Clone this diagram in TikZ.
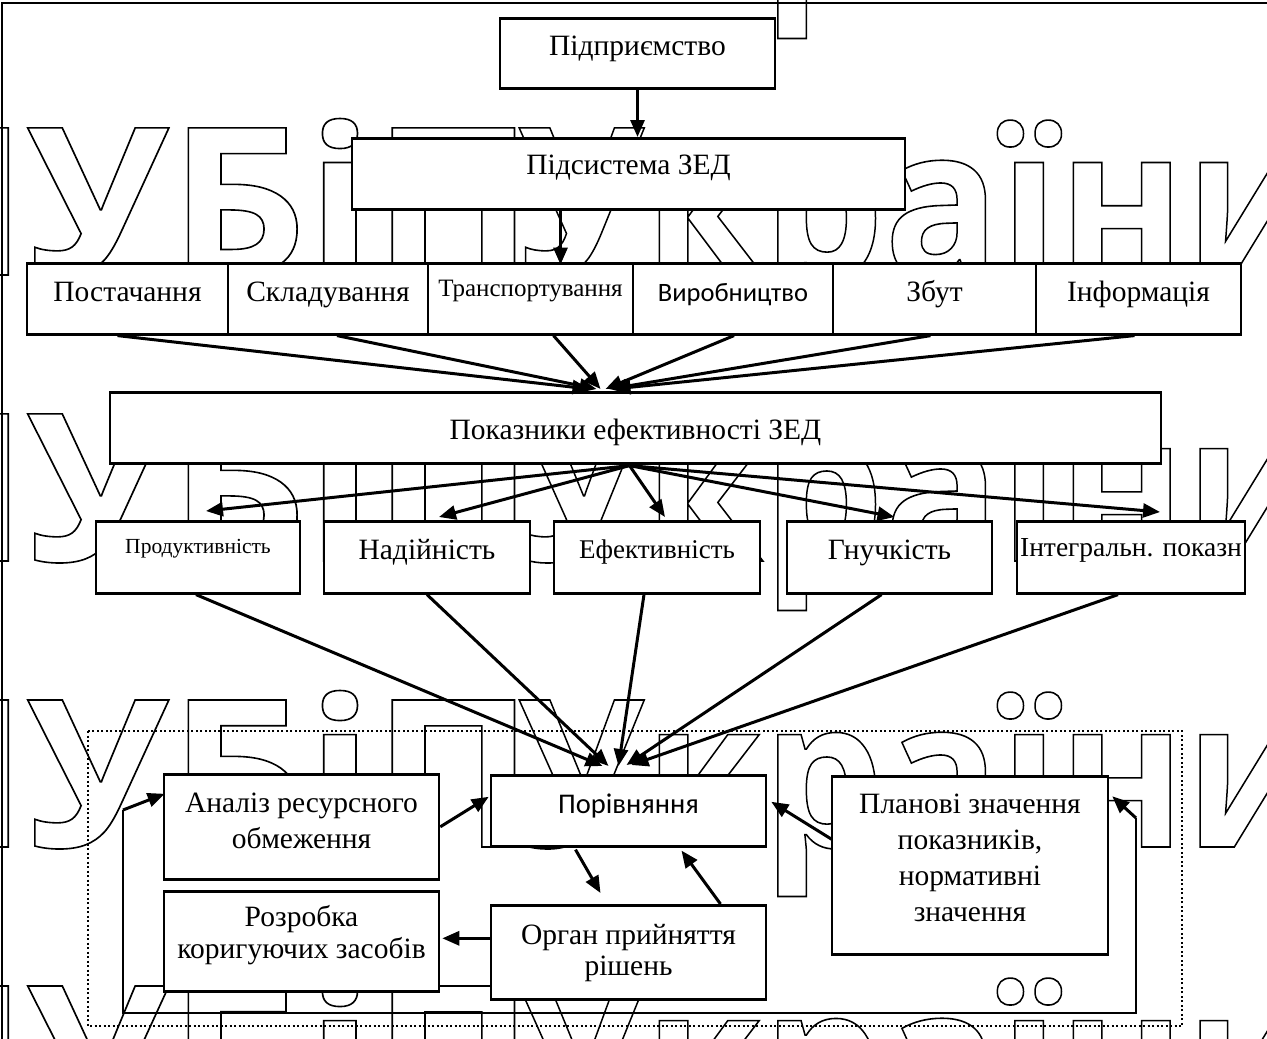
\documentclass[tikz,border=0pt]{standalone}
\usepackage{fontspec}
\usepackage{graphicx}
\setmainfont{Liberation Serif}
\newfontfamily\calibrifont{Carlito}
\newfontfamily\wmfont{Open Sans}
\newcommand\hollow[1]{\special{pdf:literal direct 1 Tr 1.6 w}#1\special{pdf:literal direct 0 Tr}}
\usetikzlibrary{arrows.meta,calc}

\begin{document}
\begin{tikzpicture}[x=1pt,y=1pt,yscale=-1,xscale=1,
    box/.style={draw, line width=2.6pt, fill=white, inner sep=0pt, anchor=north, align=center, font=\fontsize{29.5}{35}\selectfont},
    arr/.style={line width=3pt, -{Triangle[length=17pt,width=14pt]}},
    wm/.style={anchor=base west, inner sep=0pt, font=\wmfont\bfseries\fontsize{206}{206}\selectfont}]
  \useasboundingbox (0,0) rectangle (1267,1039);
  % watermark
  \begin{scope}
    \clip (0,0) rectangle (1267,1039);
    \foreach \b [count=\i] in {-11,275,561,847,1133}
      \node[wm] (wm\i) at (-138,\b) {\hollow{\makebox[657pt][l]{\scalebox{1.05}[1]{НУБіП}}\scalebox{0.93}[1]{України}}};
  \end{scope}
  % page frame
  \draw[line width=2pt] (2,1039) -- (2,3) -- (1267,3);
  \draw[line width=1.8pt, dash pattern=on 2pt off 2.5pt] (88,731) rectangle (1182,1026);

  \node[box, minimum width=275pt, text height=37pt, text depth=33pt] (pidpr) at (637.5,17) {Підприємство};
  \node[box, minimum width=553pt, text height=36pt, text depth=35pt] (pidsys) at (628.5,137) {Підсистема ЗЕД};

  \node[box, minimum width=201pt, text height=38pt, text depth=33pt] (post) at (127.5,262) {Постачання};
  \node[box, minimum width=200pt, text height=38pt, text depth=33pt] (sklad) at (328,262) {Складування};
  \node[box, minimum width=205pt, text height=33pt, text depth=38pt, font=\fontsize{25}{29}\selectfont] (trans) at (530.5,262) {Транспортування};
  \node[box, minimum width=200pt, text height=38pt, text depth=33pt, font=\calibrifont\fontsize{26.5}{30}\selectfont] (vyrob) at (733,262) {Виробництво};
  \node[box, minimum width=203pt, text height=38pt, text depth=33pt] (zbut) at (934.5,262) {Збут};
  \node[box, minimum width=205pt, text height=38pt, text depth=33pt] (inform) at (1138.5,262) {Інформація};

  \node[box, minimum width=1051pt, text height=47pt, text depth=24pt] (pokaz) at (635.5,391) {Показники ефективності ЗЕД};

  \node[box, minimum width=204pt, text height=32pt, text depth=40pt, font=\fontsize{21.5}{25}\selectfont] (prod) at (198,520) {Продуктивність};
  \node[box, minimum width=206pt, text height=38pt, text depth=34pt] (nadij) at (427,520) {Надійність};
  \node[box, minimum width=206pt, text height=37pt, text depth=35pt, font=\fontsize{27}{31}\selectfont] (efekt) at (657,520) {Ефективність};
  \node[box, minimum width=205pt, text height=38pt, text depth=34pt] (hnuch) at (889.5,520) {Гнучкість};
  \node[box, minimum width=228pt, text height=35pt, text depth=37pt, font=\fontsize{27.5}{31}\selectfont] (intehr) at (1131,520) {Інтегральн. показн};

  \node[box, minimum width=275pt, text height=74pt, text depth=31pt, font=\fontsize{29.5}{36}\selectfont] (analiz) at (301.5,773) {Аналіз ресурсного\\обмеження};
  \node[box, minimum width=275pt, text height=67pt, text depth=33pt, font=\fontsize{29.5}{32}\selectfont] (rozrob) at (301.5,890) {Розробка\\коригуючих засобів};
  \node[box, minimum width=275pt, text height=38pt, text depth=33pt, font=\calibrifont\fontsize{28.5}{32}\selectfont] (porivn) at (628.5,774) {Порівняння};
  \node[box, minimum width=275pt, text height=70pt, text depth=24pt, font=\fontsize{29.5}{31}\selectfont] (orhan) at (628.5,904) {Орган прийняття\\рішень};
  \node[box, minimum width=276pt, text height=145pt, text depth=33pt, font=\fontsize{29.5}{36}\selectfont] (planovi) at (970,775) {Планові значення\\показників,\\нормативні\\значення};

  % feedback loop
  \coordinate (loopL) at (123,810);
  \coordinate (loopR) at (1136,818);
  \draw[line width=1.2pt] (loopL) -- (123,1013) -- (1136,1013) -- (loopR);
  \draw[arr] (loopL) -- ($(analiz.west)+(2,-33)$);
  \draw[arr] (loopR) -- ($(planovi.east)+(3,-69)$);

  \draw[arr] (pidpr.south) -- (pidpr.south |- pidsys.north);
  \draw[arr] ($(pidsys.south)+(-68,0)$) -- ($(pidsys.south)+(-68,54)$);

  \draw[arr] ($(post.south)+(-10,0)$) -- ($(pokaz.north)+(-46,-2)$);
  \draw[arr] ($(sklad.south)+(9,0)$) -- ($(pokaz.north)+(-39,-2)$);
  \draw[arr] ($(trans.south)+(23,0)$) -- ($(pokaz.north)+(-35,-2)$);
  \draw[arr] ($(vyrob.south)+(1,0)$) -- ($(pokaz.north)+(-30,-2)$);
  \draw[arr] ($(zbut.south)+(-4,0)$) -- ($(pokaz.north)+(-26,-2)$);
  \draw[arr] ($(inform.south)+(-4,0)$) -- ($(pokaz.north)+(-22,-2)$);

  \foreach \t/\dx/\dy in {prod/8/-9, nadij/12/-3, efekt/8/-3, hnuch/5/-3, intehr/29/-8}
    \draw[arr] ($(pokaz.south)+(-6,1)$) -- ($(\t.north)+(\dx,\dy)$);

  \foreach \s/\sx/\ex/\ey in {prod/-2/-26/-8, nadij/0/-20/-8, efekt/-13/-10/-8, hnuch/-8/-2/-9, intehr/-13/3/-9}
    \draw[arr] ($(\s.south)+(\sx,0)$) -- ($(porivn.north)+(\ex,\ey)$);

  \draw[arr] (analiz.east) -- ($(porivn.west)+(-1,-14)$);
  \draw[arr] ($(porivn.south)+(-53,2)$) -- ($(orhan.north)+(-28,-11)$);
  \draw[arr] ($(orhan.north)+(92,0)$) -- ($(porivn.south)+(53,3)$);
  \draw[arr] ($(orhan.west)+(0,-14)$) -- ($(rozrob.east)+(2,-3)$);
  \draw[arr] ($(planovi.west)+(1,-26)$) -- ($(porivn.east)+(4,-9)$);
\end{tikzpicture}
\end{document}
